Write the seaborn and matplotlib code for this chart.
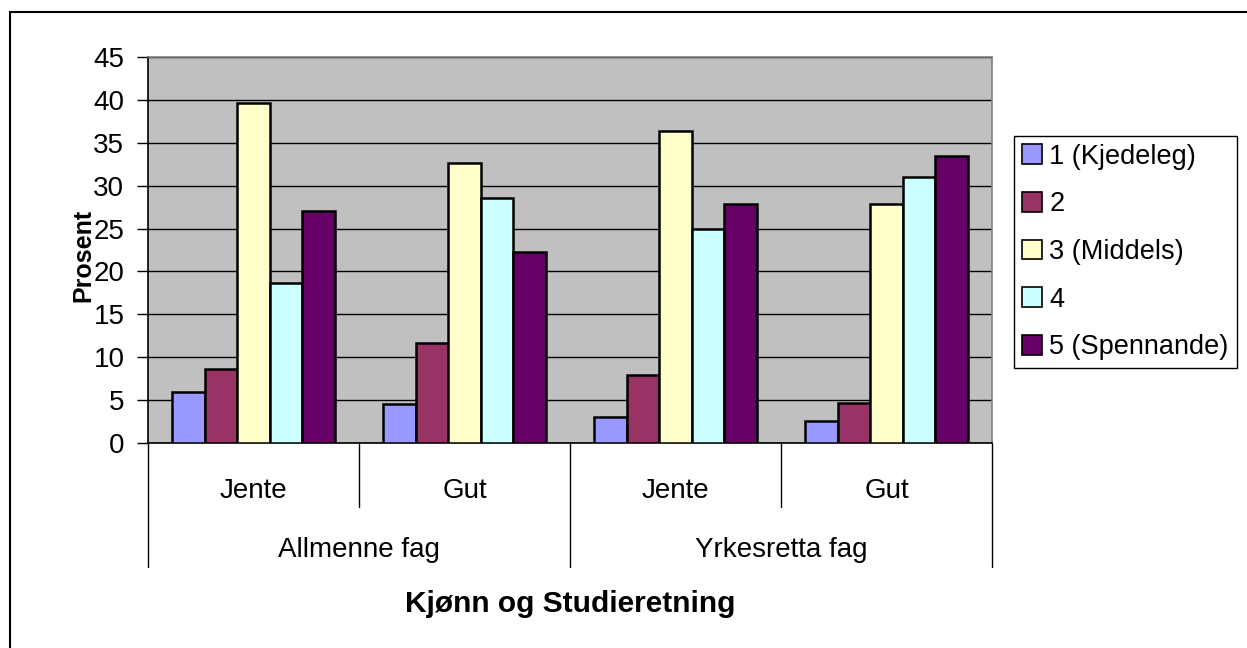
import pandas as pd
import numpy as np
import matplotlib
matplotlib.use("Agg")
import matplotlib.pyplot as plt
from matplotlib.patches import Patch, Rectangle
import seaborn as sns

# Data
categories = ["Allmenne fag|Jente", "Allmenne fag|Gut", "Yrkesretta fag|Jente", "Yrkesretta fag|Gut"]
gender_labels = ["Jente", "Gut", "Jente", "Gut"]
study_labels = ["Allmenne fag", "Yrkesretta fag"]
ratings = ["1 (Kjedeleg)", "2", "3 (Middels)", "4", "5 (Spennande)"]
r1 = [6.0, 4.6, 3.0, 2.6]
r2 = [8.6, 11.6, 7.9, 4.7]
r3 = [39.6, 32.6, 36.4, 27.9]
r4 = [18.6, 28.6, 24.9, 31.0]
r5 = [27.0, 22.3, 27.9, 33.5]
colors = ["#9999FF", "#993366", "#FFFFCC", "#CCFFFF", "#660066"]

rows = []
for rating, vals in zip(ratings, [r1, r2, r3, r4, r5]):
    for cat, v in zip(categories, vals):
        rows.append({"cat": cat, "rating": rating, "value": v})
df = pd.DataFrame(rows)

sns.set_style("white")
plt.rcParams["font.family"] = ["Liberation Sans", "DejaVu Sans"]
plt.rcParams["text.color"] = "black"
plt.rcParams["ytick.color"] = "black"
plt.rcParams["ytick.labelcolor"] = "black"
FS = 20

fig = plt.figure(figsize=(12.47, 6.48), dpi=100)
ax = fig.add_axes([148 / 1247, 1 - 443 / 648, 844 / 1247, 386 / 648])
ax.set_facecolor("#C0C0C0")

sns.barplot(data=df, x="cat", y="value", hue="rating", order=categories,
            hue_order=ratings, palette=colors, width=0.77, gap=0,
            edgecolor="black", linewidth=1.8, saturation=1, legend=False,
            errorbar=None, ax=ax, zorder=3)

ax.set_xlim(-0.5, 3.5)
ax.set_ylim(0, 45)
ax.set_yticks(np.arange(0, 46, 5))
ax.yaxis.grid(True, color="black", linewidth=1)
ax.set_axisbelow(True)
ax.tick_params(axis="y", labelsize=FS, length=8, width=1, color="black", pad=9, left=True)
ax.set_xticks([])
ax.set_xlabel("")
ax.set_ylabel("")

for side in ["top", "right"]:
    ax.spines[side].set_color("#808080")
    ax.spines[side].set_linewidth(1.2)
for side in ["left", "bottom"]:
    ax.spines[side].set_color("black")
    ax.spines[side].set_linewidth(1.2)

# Two-level category axis
trans = ax.get_xaxis_transform()
for i, lab in enumerate(gender_labels):
    ax.text(i, -0.142, lab, transform=trans, ha="center", va="baseline", fontsize=FS)
for j, lab in enumerate(study_labels):
    ax.text(2 * j + 0.5, -0.295, lab, transform=trans, ha="center", va="baseline", fontsize=FS)
for x in [0.5, 2.5]:
    ax.plot([x, x], [0, -0.166], transform=trans, color="black", lw=1, clip_on=False)
for x in [-0.5, 1.5, 3.5]:
    ax.plot([x, x], [0, -0.321], transform=trans, color="black", lw=1, clip_on=False)

fig.text(570 / 1247, 1 - 612 / 648, "Kjønn og Studieretning", ha="center", va="baseline",
         fontsize=21.5, fontweight="bold")
fig.text(83 / 1247, 1 - 255 / 648, "Prosent", rotation=90, ha="center", va="center",
         fontsize=18, fontweight="bold")

handles = [Patch(facecolor=c, edgecolor="black", linewidth=1.2) for c in colors]
leg = fig.legend(handles, ratings, loc="center left",
                 bbox_to_anchor=(1014 / 1247, 1 - 252 / 648), fontsize=19.5,
                 frameon=True, fancybox=False, framealpha=1, edgecolor="black",
                 handlelength=0.75, handleheight=0.75, handletextpad=0.25,
                 labelspacing=0.8, borderpad=0.3, borderaxespad=0)
leg.get_frame().set_linewidth(1)

# outer chart border
fig.add_artist(Rectangle((10 / 1247, -0.1), 1.2, 1 - 12 / 648 + 0.1, transform=fig.transFigure,
                         fill=False, edgecolor="black", linewidth=1.5))

fig.savefig("out.png", dpi=100)
plt.close(fig)
